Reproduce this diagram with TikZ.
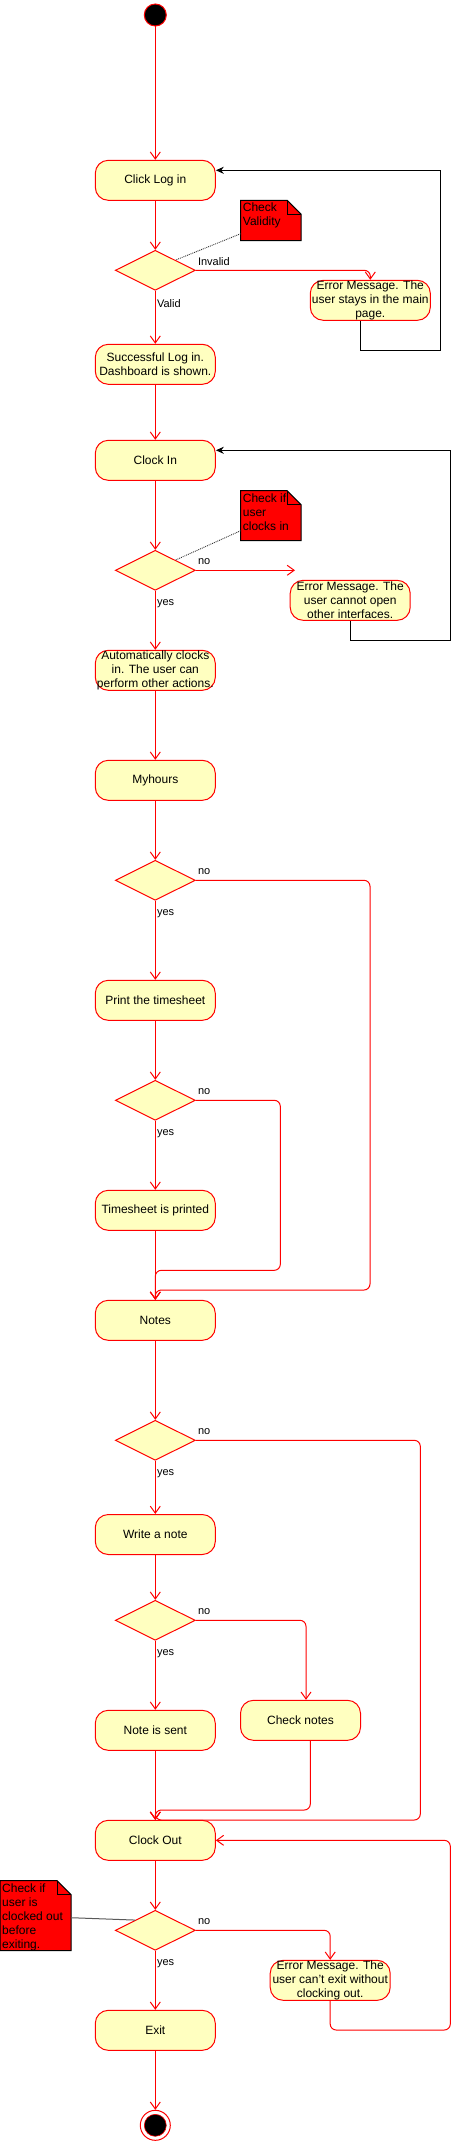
\documentclass[tikz,border=0pt]{standalone}
\usepackage{fontspec}
\setmainfont{Liberation Sans}
\usepackage{xcolor}
\usepackage{tikz}
\usetikzlibrary{shapes.geometric,arrows.meta,positioning}
\definecolor{actfill}{HTML}{FFFFC0}

\begin{document}
\begin{tikzpicture}[x=1pt,y=-1pt]
            \tikzstyle{activity}=[rectangle, rounded corners=13pt, draw=red, fill=actfill, line width=1pt, minimum width=120pt, minimum height=40pt, inner sep=0pt, align=center, font=\fontsize{12}{14}\selectfont];
            \tikzstyle{decision}=[diamond, draw=red, fill=actfill, line width=1pt, minimum width=80pt, minimum height=40pt, inner sep=0pt];
            \tikzstyle{flow}=[draw=red, line width=1pt, rounded corners=6pt, -{Straight Barb[length=7pt,width=10pt]}];
            \tikzstyle{loopback}=[draw=black, line width=1pt, -{Stealth[length=8pt,width=7pt]}];
            \tikzstyle{notebox}=[rectangle, anchor=north west, inner sep=0pt];
            \tikzstyle{notetext}=[anchor=north west, inner xsep=2pt, inner ysep=2.5pt, align=left, font=\fontsize{12}{14}\selectfont];
            \tikzstyle{notelink}=[densely dotted, line width=0.9pt, gray!40!black];
            \tikzstyle{lbl}=[anchor=west, inner sep=0pt, font=\fontsize{11}{12}\selectfont];
            \useasboundingbox (0,0) rectangle (461,2141);

            % Start point
            \node[circle, draw=red, fill=black, line width=1pt, minimum size=22pt, inner sep=0pt] (start) at (155.3,15) {};

            % Log in part
            \node[activity] (login) at (155.3,180.3) {Click Log in};
            \node[decision] (d1) at (155.3,270.3) {};
            \node[activity] (err1) at (370.3,300.3) {Error Message. The\\user stays in the main\\page.};
            \node[activity] (success) at (155.3,364.3) {Successful Log in.\\Dashboard is shown.};

            % Clock in part
            \node[activity] (clockin) at (155.3,460.3) {Clock In};
            \node[decision] (d2) at (155.3,570.3) {};
            \node[activity] (err2) at (350.2,600.3) {Error Message. The\\user cannot open\\other interfaces.};
            \node[activity] (auto) at (155.3,670.3) {Automatically clocks\\in. The user can\\perform other actions.};

            % Myhours part
            \node[activity] (myhours) at (155.3,780.3) {Myhours};
            \node[decision] (d3) at (155.3,880.3) {};
            \node[activity] (print) at (155.3,1000.3) {Print the timesheet};
            \node[decision] (d4) at (155.3,1100.3) {};
            \node[activity] (printed) at (155.3,1210.3) {Timesheet is printed};

            % Notes part
            \node[activity] (notes) at (155.3,1320.3) {Notes};
            \node[decision] (d5) at (155.3,1440.3) {};
            \node[activity] (write) at (155.3,1534.5) {Write a note};
            \node[decision] (d6) at (155.3,1620.3) {};
            \node[activity] (cn) at (300.5,1720.3) {Check notes};
            \node[activity] (sent) at (155.3,1730.3) {Note is sent};

            % Clock out part
            \node[activity] (clockout) at (155.3,1840.3) {Clock Out};
            \node[decision] (d7) at (155.3,1930.3) {};
            \node[activity] (err3) at (330.2,1980.3) {Error Message. The\\user can't exit without\\clocking out.};
            \node[activity] (exit) at (155.3,2030.3) {Exit};

            % End point
            \node[circle, draw=red, fill=white, line width=1pt, minimum size=30pt, inner sep=0pt] (end) at (155.3,2125.3) {};
            \filldraw[fill=black, draw=red, line width=0.6pt] (end.center) circle (11pt);

            % Notes with folded corner
            \node[notebox, minimum width=60pt, minimum height=40pt] (nv) at (240.7,200.3) {};
            \node[notebox, minimum width=60pt, minimum height=49.6pt] (nc) at (240.7,490.7) {};
            \node[notebox, minimum width=70.7pt, minimum height=69.6pt] (nx) at (0,1880.7) {};
            \foreach \n in {nv,nc,nx} {
                \filldraw[fill=red, draw=black, line width=1pt] (\n.north west) -- ([xshift=-14pt]\n.north east) -- ([yshift=-14pt]\n.north east) -- (\n.south east) -- (\n.south west) -- cycle;
                \draw[line width=1pt] ([xshift=-14pt]\n.north east) |- ([yshift=-14pt]\n.north east);
            }
            \node[notetext] (nvtext) at (nv.north west) {Check\\Validity};
            \node[notetext] (nctext) at (nc.north west) {Check if\\user\\clocks in};
            \node[notetext] (nxtext) at (nx.north west) {Check if\\user is\\clocked out\\before\\exiting.};

            % Note links
            \draw[notelink] ([yshift=7pt]nv.south west) -- (d1.north east);
            \draw[notelink] ([yshift=10pt]nc.south west) -- (d2.north east);
            \draw[line width=1pt, gray!70!black] ([yshift=33pt]nx.south east) -- (d7.north west);

            % Main flow
            \draw[flow] (start) -- (login);
            \draw[flow] (login) -- (d1);
            \draw[flow] (d1) -- (success);
            \draw[flow] (success) -- (clockin);
            \draw[flow] (clockin) -- (d2);
            \draw[flow] (d2) -- (auto);
            \draw[flow] (auto) -- (myhours);
            \draw[flow] (myhours) -- (d3);
            \draw[flow] (d3) -- (print);
            \draw[flow] (print) -- (d4);
            \draw[flow] (d4) -- (printed);
            \draw[flow] (printed) -- (notes);
            \draw[flow] (notes) -- (d5);
            \draw[flow] (d5) -- (write);
            \draw[flow] (write) -- (d6);
            \draw[flow] (d6) -- (sent);
            \draw[flow] (sent) -- (clockout);
            \draw[flow] (clockout) -- (d7);
            \draw[flow] (d7) -- (exit);
            \draw[flow] (exit) -- (end);

            % Side branches
            \coordinate (r1) at (440.3,350);
            \coordinate (c2) at (295,570.3);
            \coordinate (r2) at (450.3,640);
            \coordinate (m3) at (370,1290);
            \coordinate (m4) at (280.3,1270.3);
            \coordinate (m5) at (420.3,1820);
            \coordinate (m6) at (310.3,1810);
            \coordinate (r3) at (450.3,2030);
            \draw[flow] (d1.east) -| (err1.north);
            \draw[loopback] ([xshift=-10pt]err1.south) |- (r1) |- ([yshift=10pt]login.east);
            \draw[flow] (d2.east) -- (c2);
            \draw[loopback] (err2.south) |- (r2) |- ([yshift=10pt]clockin.east);
            \draw[flow] (d3.east) -| (m3) -| (notes.north);
            \draw[flow] (d4.east) -| (m4) -| (notes.north);
            \draw[flow] (d5.east) -| (m5) -| (clockout.north);
            \draw[flow] (d6.east) -| ([xshift=5.5pt]cn.north);
            \draw[flow] ([xshift=9.8pt]cn.south) -- (m6) -| (clockout.north);
            \draw[flow] (d7.east) -| (err3.north);
            \draw[flow] (err3.south) |- (r3) |- (clockout.east);

            % Labels
            \node[lbl] (l1) at ([xshift=2pt,yshift=9pt]d1.east) {Invalid};
            \node[lbl] (l2) at ([xshift=1.5pt,yshift=-13pt]d1.south) {Valid};
            \foreach \d in {d2,d3,d4,d5,d6,d7} {
                \node[lbl] at ([xshift=2pt,yshift=9pt]\d.east) {no};
                \node[lbl] at ([xshift=1.5pt,yshift=-13pt]\d.south) {yes};
            }
        \end{tikzpicture}
\end{document}
